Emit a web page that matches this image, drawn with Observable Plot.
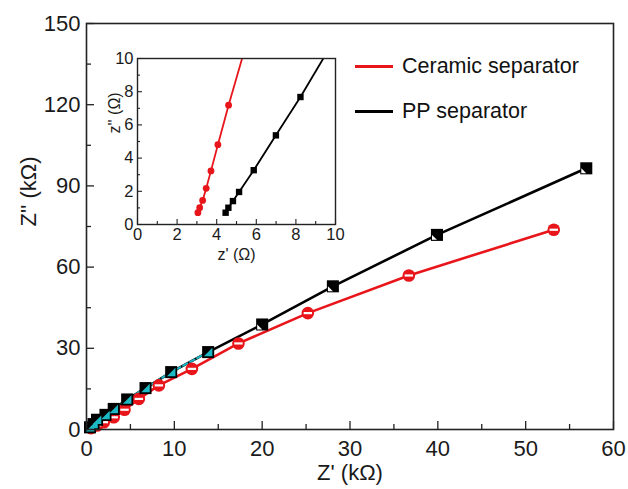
<!DOCTYPE html>
<html><head><meta charset="utf-8">
<script src="https://cdn.jsdelivr.net/npm/d3@7"></script>
<script src="https://cdn.jsdelivr.net/npm/@observablehq/plot@0.6"></script>
<style>
html,body{margin:0;padding:0;background:#fff;}
#wrap{position:relative;width:628px;height:489px;font-family:"Liberation Sans",Arial,sans-serif;overflow:hidden;}
#wrap svg{position:absolute;}
.leg{position:absolute;display:flex;align-items:center;font-size:21.5px;color:#111;white-space:nowrap;}
.leg .sw{display:inline-block;width:38px;height:3px;margin-right:9px;}
</style></head><body>
<div id="wrap"></div>
<script>
// ---- main Nyquist data (kΩ) ----
const ppZr  = [0.4, 0.8, 1.2, 2.16, 3.1, 4.63, 6.72, 9.64, 13.85, 20.0, 28.05, 39.9, 56.9];
const ppZi  = [0.8, 2.0, 3.6, 5.4, 7.6, 11.1, 15.3, 21.2, 28.6, 38.8, 52.9, 71.9, 96.5];
const cerZr = [0.5, 1.2, 1.97, 3.1, 4.33, 5.96, 8.24, 12.0, 17.3, 25.2, 36.7, 53.2];
const cerZi = [0.5, 1.5, 2.7, 4.5, 7.3, 11.3, 16.3, 22.4, 31.8, 43.0, 56.9, 73.8];
const cyanZr = [0.4, 0.8, 1.2, 2.16, 3.1, 4.63, 6.72, 9.64, 13.85];
const cyanZi = [0.8, 2.0, 3.6, 5.4, 7.6, 11.1, 15.3, 21.2, 28.6];
// ---- inset data (Ω) ----
const inCerZr = [3.05, 3.14, 3.29, 3.47, 3.71, 4.06, 4.60, 5.55];
const inCerZi = [0.71, 1.01, 1.45, 2.18, 3.23, 4.81, 7.19, 11.1];
const inPpZr  = [4.45, 4.59, 4.82, 5.13, 5.87, 6.99, 8.23, 9.88];
const inPpZi  = [0.71, 1.01, 1.41, 1.96, 3.27, 5.37, 7.68, 11.0];
// ---- ticks & labels ----
const xMajor = [0, 10, 20, 30, 40, 50, 60];
const xMinor = [5, 15, 25, 35, 45, 55];
const yMajor = [0, 30, 60, 90, 120, 150];
const yMinor = [15, 45, 75, 105, 135];
const inMajor = [0, 2, 4, 6, 8, 10];
const inMinor = [1, 3, 5, 7, 9];
const xTitle = "Z' (kΩ)", yTitle = "Z'' (kΩ)";
const inXTitle = "z' (Ω)", inYTitle = "z'' (Ω)";
const seriesNames = ["Ceramic separator", "PP separator"];
const seriesColors = ["#e8161b", "#000000"];

const RED = seriesColors[0], BLK = seriesColors[1], CYAN = "#1cb9c4";
const FONT = "Liberation Sans, Arial, sans-serif";

const triLR = {draw(c, size){const s=Math.sqrt(size)/2; c.moveTo(s,-s); c.lineTo(s,s); c.lineTo(-s,s); c.closePath();}};
const triLL = {draw(c, size){const s=Math.sqrt(size)/2; c.moveTo(-s,0); c.lineTo(0,s); c.lineTo(-s,s); c.closePath();}};
const stripe = {draw(c, size){const r=Math.sqrt(size/Math.PI); c.rect(-r, -1.1, 2*r, 2.2);}};

const MW = 628, MH = 489, mL = 86, mR = 15, mT = 23, mB = 60;
const fw = MW - mL - mR, fh = MH - mT - mB;
const bigIdx = ppZr.map((d,i)=>i).filter(i => ppZr[i] > 15);

const main = Plot.plot({
  width: MW, height: MH,
  marginLeft: mL, marginRight: mR, marginTop: mT, marginBottom: mB,
  x: {domain: [0, 60]}, y: {domain: [0, 150]},
  style: {fontFamily: FONT, fontSize: "22px", color: "#1a1a1a", background: "transparent"},
  marks: [
    Plot.ruleX(xMajor, {x: d => d, insetTop: fh - 8, stroke: "#222", strokeWidth: 1.3}),
    Plot.ruleX(xMinor, {x: d => d, insetTop: fh - 5, stroke: "#222", strokeWidth: 1.3}),
    Plot.ruleY(yMajor, {y: d => d, insetRight: fw - 8, stroke: "#222", strokeWidth: 1.3}),
    Plot.ruleY(yMinor, {y: d => d, insetRight: fw - 5, stroke: "#222", strokeWidth: 1.3}),
    Plot.axisX(xMajor, {tickSize: 0, tickPadding: 11, label: null, fontSize: 22}),
    Plot.axisY(yMajor, {tickSize: 0, tickPadding: 6, label: null, fontSize: 22}),
    Plot.text([xTitle], {frameAnchor: "bottom", dy: 43, lineAnchor: "middle", fontSize: 22, text: d => d}),
    Plot.text([yTitle], {frameAnchor: "left", dx: -58, rotate: -90, lineAnchor: "middle", fontSize: 22, text: d => d}),
    Plot.line(cerZr, {x: cerZr, y: cerZi, stroke: RED, strokeWidth: 2.6}),
    Plot.line(ppZr, {x: ppZr, y: ppZi, stroke: BLK, strokeWidth: 2.6}),
    Plot.line(cyanZr, {x: cyanZr, y: cyanZi, stroke: CYAN, strokeWidth: 2, strokeDasharray: "5,3"}),
    Plot.dot(cerZr, {x: cerZr, y: cerZi, r: 6.3, fill: RED}),
    Plot.dot(cerZr, {x: cerZr, y: cerZi, r: 4.2, symbol: stripe, fill: "#fff"}),
    Plot.dot(ppZr, {x: ppZr, y: ppZi, r: 6.8, symbol: "square", fill: BLK}),
    Plot.dot(cyanZr, {x: cyanZr, y: cyanZi, r: 4.8, symbol: triLR, fill: CYAN}),
    Plot.dot(bigIdx, {x: i => ppZr[i], y: i => ppZi[i], r: 5.6, symbol: triLL, fill: "#fff"}),
    Plot.frame({stroke: "#222", strokeWidth: 1.6})
  ]
});

// inset: frame 137..335 x 58..224
const IL = 95, IT = 40, iW = 250, imL = 42, imT = 18, imR = 10, imB = 48;
const ifw = 198, ifh = 166, iH = imT + ifh + imB;
const inset = Plot.plot({
  width: iW, height: iH,
  marginLeft: imL, marginRight: imR, marginTop: imT, marginBottom: imB,
  x: {domain: [0, 10]}, y: {domain: [0, 10]},
  style: {fontFamily: FONT, fontSize: "16px", color: "#1a1a1a", background: "transparent"},
  marks: [
    Plot.ruleX(inMajor, {x: d => d, insetTop: ifh - 5, stroke: "#222", strokeWidth: 1.1}),
    Plot.ruleX(inMinor, {x: d => d, insetTop: ifh - 3, stroke: "#222", strokeWidth: 1.1}),
    Plot.ruleY(inMajor, {y: d => d, insetRight: ifw - 5, stroke: "#222", strokeWidth: 1.1}),
    Plot.ruleY(inMinor, {y: d => d, insetRight: ifw - 3, stroke: "#222", strokeWidth: 1.1}),
    Plot.axisX(inMajor, {tickSize: 0, tickPadding: 4, label: null, fontSize: 16.5}),
    Plot.axisY(inMajor, {tickSize: 0, tickPadding: 4, label: null, fontSize: 16.5}),
    Plot.text([inXTitle], {frameAnchor: "bottom", dy: 30, lineAnchor: "middle", fontSize: 16, text: d => d}),
    Plot.text([inYTitle], {frameAnchor: "left", dx: -23, dy: -8, rotate: -90, lineAnchor: "middle", fontSize: 16, text: d => d}),
    Plot.line(inCerZr, {x: inCerZr, y: inCerZi, stroke: RED, strokeWidth: 1.8, clip: true}),
    Plot.line(inPpZr, {x: inPpZr, y: inPpZi, stroke: BLK, strokeWidth: 1.8, clip: true}),
    Plot.dot(inCerZr, {x: inCerZr, y: inCerZi, r: 3.4, fill: RED, clip: true}),
    Plot.dot(inPpZr, {x: inPpZr, y: inPpZi, r: 3.6, symbol: "square", fill: BLK, clip: true}),
    Plot.frame({stroke: "#222", strokeWidth: 1.4})
  ]
});

const wrap = document.getElementById("wrap");
main.style.left = "0px"; main.style.top = "0px";
inset.style.left = IL + "px"; inset.style.top = IT + "px";
wrap.appendChild(main);
wrap.appendChild(inset);

const legY = [66, 111];
seriesNames.forEach((name, i) => {
  const d = document.createElement("div");
  d.className = "leg";
  d.style.left = "355px";
  d.style.top = (legY[i] - 13) + "px";
  d.style.height = "26px";
  const sw = document.createElement("span");
  sw.className = "sw"; sw.style.background = seriesColors[i];
  const t = document.createElement("span");
  t.textContent = name;
  d.appendChild(sw); d.appendChild(t);
  wrap.appendChild(d);
});
</script>
</body></html>
